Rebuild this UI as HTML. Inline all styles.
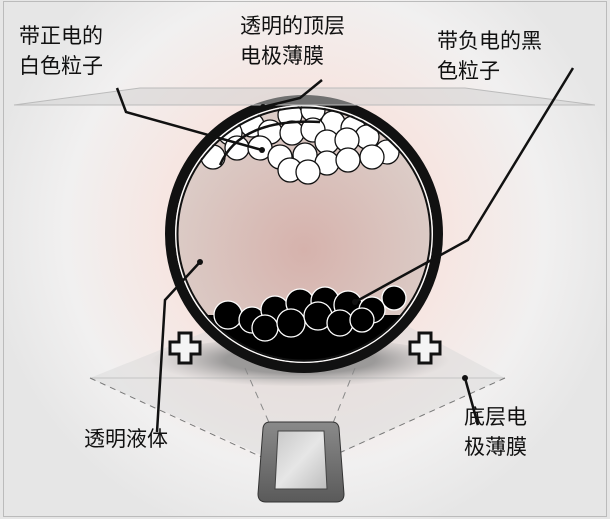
<!DOCTYPE html>
<html><head><meta charset="utf-8"><style>
html,body{margin:0;padding:0;background:#fff}
svg{display:block}
text{font-family:"Liberation Sans","Noto Sans CJK SC",sans-serif;font-size:21px;fill:#111}
</style></head><body>
<svg width="610" height="519" viewBox="0 0 610 519" xmlns="http://www.w3.org/2000/svg">
<defs>
<radialGradient id="bg" cx="305" cy="230" r="320" gradientUnits="userSpaceOnUse">
<stop offset="0" stop-color="#f3d0c9"/>
<stop offset="0.45" stop-color="#f6e6e2"/>
<stop offset="0.75" stop-color="#f1f0f0"/>
<stop offset="1" stop-color="#e6e6e6"/>
</radialGradient>
<radialGradient id="inn" cx="304" cy="250" r="140" gradientUnits="userSpaceOnUse">
<stop offset="0" stop-color="#d6b2ac"/>
<stop offset="1" stop-color="#dccdc8"/>
</radialGradient>
<radialGradient id="sh" cx="300" cy="360" r="150" gradientUnits="userSpaceOnUse" gradientTransform="translate(0,360) scale(1,0.18) translate(0,-360)">
<stop offset="0.5" stop-color="#888" stop-opacity="0.8"/>
<stop offset="1" stop-color="#aaa" stop-opacity="0"/>
</radialGradient>
<clipPath id="cc"><circle cx="304" cy="234" r="128"/></clipPath>
<linearGradient id="scr" x1="0" y1="0" x2="1" y2="1"><stop offset="0" stop-color="#c8c8c8"/><stop offset="0.5" stop-color="#e6e6e6"/><stop offset="1" stop-color="#bdbdbd"/></linearGradient>
<linearGradient id="dev" x1="0" y1="0" x2="0" y2="1"><stop offset="0" stop-color="#8a8a8a"/><stop offset="1" stop-color="#5a5a5a"/></linearGradient>
</defs>
<rect x="0" y="0" width="610" height="519" fill="url(#bg)"/>
<rect x="3.5" y="1.5" width="603" height="515" fill="none" stroke="#bbb"/>
<!-- bottom plane -->
<polygon points="90,378 230,322 400,322 505,378 330,458 268,458" fill="#d6d6d6" fill-opacity="0.45"/>
<line x1="90" y1="378" x2="505" y2="378" stroke="#c4c4c4"/>
<polyline points="90,378 268,460" stroke="#777" stroke-dasharray="6,5" fill="none"/>
<polyline points="505,378 328,458" stroke="#777" stroke-dasharray="6,5" fill="none"/>
<ellipse cx="300" cy="362" rx="150" ry="24" fill="url(#sh)"/>
<line x1="245" y1="368" x2="300" y2="493" stroke="#888" stroke-dasharray="7,6"/>
<line x1="355" y1="368" x2="305" y2="493" stroke="#888" stroke-dasharray="7,6"/>
<!-- circle -->
<circle cx="304" cy="234" r="134" fill="url(#inn)"/>
<g clip-path="url(#cc)">
<rect x="160" y="315" width="300" height="90" fill="#000"/>
<g fill="#000" stroke="#fff" stroke-width="1.3">
<circle cx="228" cy="315" r="14"/><circle cx="252" cy="320" r="13"/><circle cx="275" cy="310" r="14"/><circle cx="300" cy="303" r="14"/>
<circle cx="325" cy="301" r="14"/><circle cx="348" cy="305" r="14"/><circle cx="372" cy="310" r="13"/><circle cx="394" cy="298" r="12"/>
<circle cx="265" cy="328" r="13"/><circle cx="291" cy="323" r="14"/><circle cx="318" cy="316" r="14"/><circle cx="340" cy="323" r="13"/><circle cx="362" cy="320" r="12"/>
</g>
<g fill="#fff" stroke="#111" stroke-width="1.3">
<circle cx="290" cy="115" r="12"/><circle cx="313" cy="110" r="12"/><circle cx="333" cy="123" r="12"/><circle cx="252" cy="125" r="12"/><circle cx="353" cy="128" r="12"/>
<circle cx="230" cy="133" r="12"/><circle cx="270" cy="132" r="12"/><circle cx="292" cy="133" r="12"/><circle cx="313" cy="130" r="12"/><circle cx="367" cy="137" r="12"/>
<circle cx="327" cy="142" r="12"/><circle cx="347" cy="140" r="12"/><circle cx="387" cy="152" r="12"/>
<circle cx="213" cy="157" r="12"/><circle cx="237" cy="148" r="12"/><circle cx="260" cy="148" r="12"/><circle cx="280" cy="157" r="12"/>
<circle cx="305" cy="155" r="12"/><circle cx="327" cy="163" r="12"/><circle cx="348" cy="160" r="12"/><circle cx="372" cy="157" r="12"/>
<circle cx="290" cy="170" r="12"/><circle cx="308" cy="172" r="12"/>
</g>
</g>
<circle cx="304" cy="234" r="134" fill="none" stroke="#111" stroke-width="10"/>
<circle cx="304" cy="234" r="128.3" fill="none" stroke="#fff" stroke-width="1.2"/>
<circle cx="304" cy="234" r="126.5" fill="none" stroke="#111" stroke-width="2"/>
<!-- top plane -->
<polygon points="14,105 140,88 465,88 595,105" fill="#d0d0d0" fill-opacity="0.5" stroke="#bbb"/>
<!-- plus signs -->
<g fill="#f4f4f4" stroke="#111" stroke-width="3">
<path d="M179,333h12v9h9v12h-9v9h-12v-9h-9v-12h9z"/>
<path d="M419,333h12v9h9v12h-9v9h-12v-9h-9v-12h9z"/>
</g>
<!-- device -->
<path d="M270,422 h62 q6,0 7,6 l5,66 q0,8 -8,8 h-70 q-8,0 -8,-8 l5,-66 q1,-6 7,-6z" fill="url(#dev)" stroke="#333"/>
<path d="M278,431 h46 l3,58 h-52z" fill="url(#scr)" stroke="#444"/>
<!-- leader lines -->
<g stroke="#111" stroke-width="2.5" fill="none">
<polyline points="117,88 126,112 262,150"/>
<path d="M220,165 Q240,118 320,122"/>
<polyline points="322,80 300,98 263,107"/>
<polyline points="573,68 468,240 355,302"/>
<polyline points="200,262 165,300 157,432"/>
<polyline points="465,378 478,425"/>
</g>
<g fill="#111"><circle cx="262" cy="150" r="3"/><circle cx="263" cy="107" r="3"/><circle cx="355" cy="302" r="3"/><circle cx="200" cy="262" r="3"/><circle cx="465" cy="378" r="3"/></g>
<!-- labels -->
<text x="19" y="43">带正电的</text>
<text x="19" y="73">白色粒子</text>
<text x="240" y="33">透明的顶层</text>
<text x="240" y="63">电极薄膜</text>
<text x="437" y="48">带负电的黑</text>
<text x="437" y="78">色粒子</text>
<text x="84" y="446">透明液体</text>
<text x="464" y="424">底层电</text>
<text x="464" y="454">极薄膜</text>
</svg>
</body></html>
